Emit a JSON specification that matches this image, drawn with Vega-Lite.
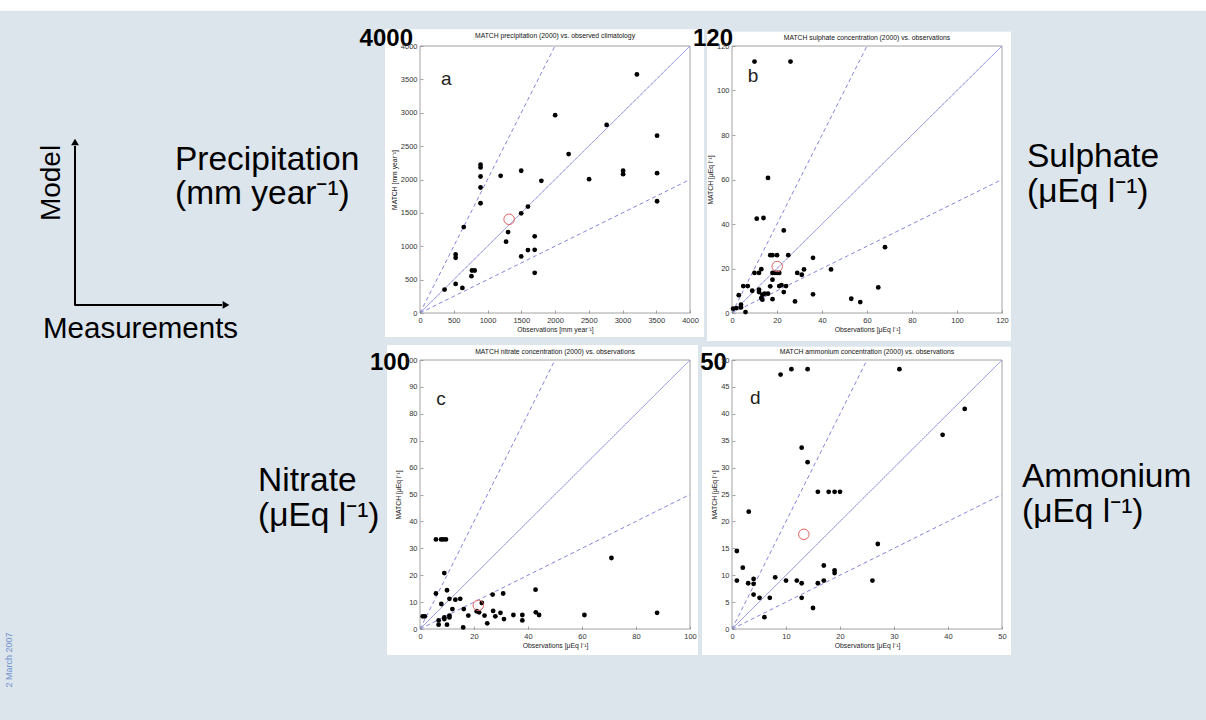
{
  "$schema": "https://vega.github.io/schema/vega-lite/v6.json",
  "padding": 0,
  "background": "#dce4ec",
  "bounds": "flush",
  "columns": 2,
  "spacing": {"row": 47, "column": 42},
  "config": {
    "font": "Liberation Sans",
    "view": {"stroke": null},
    "axis": {"grid": false, "domain": false, "format": "d", "tickColor": "#8c8c8c", "tickSize": -3, "tickWidth": 0.8, "labelFontSize": 7.5, "labelColor": "#333333", "labelPadding": 6, "labelFont": "Liberation Sans", "titleFont": "Liberation Sans", "titleFontSize": 6.8, "titleFontWeight": "normal", "titleColor": "#222222", "titlePadding": 3, "labelFlush": false, "labelOverlap": false}
  },
  "datasets": {
    "a_bg": [{"x": -6222, "x2": 11644, "y": -6097, "y2": 4689}],
    "a_strip": [{"x": -6222, "x2": 11644, "y": 4529, "y2": 4689}],
    "a_box": [{"x": -519, "x2": 4207, "y": -360, "y2": 4250}],
    "a_frame": [{"x": 0, "x2": 4000, "y": 0, "y2": 4000}],
    "a_title": [{"x": 2000, "y": 4150, "t": "MATCH precipitation (2000) vs. observed climatology"}],
    "a_ann": [{"x": -3630, "y": 2142, "t": "Precipitation"}, {"x": -3630, "y": 1633, "t": "(mm year⁻¹)"}],
    "a_arrow": [{"x": -5111, "y": 110, "x2": -5111, "y2": 2502}, {"x": -5111, "y": 120, "x2": -2933, "y2": 120}],
    "a_head": [{"x": -5111, "y": 2562, "dir": "up"}, {"x": -2874, "y": 120, "dir": "right"}],
    "a_model": [{"x": -5452, "y": 1948, "t": "Model"}],
    "a_meas": [{"x": -5585, "y": -375, "t": "Measurements"}],
    "a_ref": [{"s": "one", "x": 0, "y": 0}, {"s": "one", "x": 4000, "y": 4000}, {"s": "up", "x": 0, "y": 0}, {"s": "up", "x": 2000, "y": 4000}, {"s": "lo", "x": 0, "y": 0}, {"s": "lo", "x": 4000, "y": 2000}],
    "a_pts": [
      {"x": 364, "y": 351}, {"x": 528, "y": 436}, {"x": 528, "y": 877}, {"x": 528, "y": 827},
      {"x": 628, "y": 376}, {"x": 648, "y": 1288}, {"x": 762, "y": 551}, {"x": 770, "y": 637},
      {"x": 810, "y": 637}, {"x": 897, "y": 1644}, {"x": 897, "y": 1880}, {"x": 897, "y": 2045},
      {"x": 897, "y": 2181}, {"x": 897, "y": 2221}, {"x": 1195, "y": 2055}, {"x": 1275, "y": 1068},
      {"x": 1305, "y": 1213}, {"x": 1499, "y": 1494}, {"x": 1499, "y": 2131}, {"x": 1499, "y": 847},
      {"x": 1599, "y": 1594}, {"x": 1599, "y": 942}, {"x": 1699, "y": 1148}, {"x": 1699, "y": 947},
      {"x": 1699, "y": 602}, {"x": 1798, "y": 1980}, {"x": 2002, "y": 2963}, {"x": 2202, "y": 2381},
      {"x": 2505, "y": 2005}, {"x": 2765, "y": 2817}, {"x": 3009, "y": 2131}, {"x": 3009, "y": 2080},
      {"x": 3213, "y": 3574}, {"x": 3512, "y": 2657}, {"x": 3512, "y": 2095}, {"x": 3512, "y": 1674}
    ],
    "a_mean": [{"x": 1320, "y": 1404}],
    "a_letter": [{"x": 389, "y": 3509, "t": "a"}],
    "a_big": [{"x": -104, "y": 4105, "t": "4000"}],

    "b_box": [{"x": -11.1, "x2": 124, "y": -12.6, "y2": 126.4}],
    "b_frame": [{"x": 0, "x2": 120, "y": 0, "y2": 120}],
    "b_title": [{"x": 60, "y": 123.8, "t": "MATCH sulphate concentration (2000) vs. observations"}],
    "b_ann": [{"x": 131.1, "y": 65.6, "t": "Sulphate"}, {"x": 131.1, "y": 49.9, "t": "(μEq l⁻¹)"}],
    "b_ref": [{"s": "one", "x": 0, "y": 0}, {"s": "one", "x": 120, "y": 120}, {"s": "up", "x": 0, "y": 0}, {"s": "up", "x": 60, "y": 120}, {"s": "lo", "x": 0, "y": 0}, {"s": "lo", "x": 120, "y": 60}],
    "b_pts": [
      {"x": 10, "y": 113}, {"x": 26, "y": 113}, {"x": 16, "y": 60.7}, {"x": 11, "y": 42.4},
      {"x": 14, "y": 42.7}, {"x": 23, "y": 37.1}, {"x": 17, "y": 26}, {"x": 18, "y": 26},
      {"x": 20, "y": 26}, {"x": 25, "y": 26}, {"x": 10, "y": 18}, {"x": 12, "y": 18},
      {"x": 13, "y": 19.7}, {"x": 18, "y": 18}, {"x": 19, "y": 18}, {"x": 20, "y": 18},
      {"x": 21, "y": 18}, {"x": 29, "y": 18}, {"x": 31, "y": 17.2}, {"x": 32, "y": 19.6},
      {"x": 36, "y": 24.8}, {"x": 44, "y": 19.6}, {"x": 68, "y": 29.6}, {"x": 5, "y": 12.1},
      {"x": 7, "y": 12.1}, {"x": 17, "y": 12}, {"x": 21, "y": 12.1}, {"x": 22, "y": 12.5},
      {"x": 24, "y": 12.1}, {"x": 3, "y": 8}, {"x": 9, "y": 10}, {"x": 12, "y": 10.5},
      {"x": 12, "y": 9.4}, {"x": 13.5, "y": 8.2}, {"x": 14.5, "y": 8.7}, {"x": 16, "y": 8.7},
      {"x": 18, "y": 15}, {"x": 23, "y": 9.4}, {"x": 13, "y": 6.7}, {"x": 13.5, "y": 6},
      {"x": 18, "y": 6.2}, {"x": 2, "y": 2.2}, {"x": 0.5, "y": 1.9}, {"x": 4, "y": 2.5},
      {"x": 4, "y": 3.7}, {"x": 6, "y": 0.4}, {"x": 28, "y": 5.2}, {"x": 36, "y": 8.4},
      {"x": 53, "y": 6.4}, {"x": 57, "y": 4.9}, {"x": 65, "y": 11.5}
    ],
    "b_mean": [{"x": 20.1, "y": 20.9}],
    "b_letter": [{"x": 9.3, "y": 106.5, "t": "b"}],
    "b_big": [{"x": 0.44, "y": 123.1, "t": "120"}],

    "c_box": [{"x": -12.2, "x2": 102.96, "y": -9.67, "y2": 105.6}],
    "c_frame": [{"x": 0, "x2": 100, "y": 0, "y2": 100}],
    "c_title": [{"x": 50, "y": 102.8, "t": "MATCH nitrate concentration (2000) vs. observations"}],
    "c_ann": [{"x": -60, "y": 51.3, "t": "Nitrate"}, {"x": -60, "y": 38.3, "t": "(μEq l⁻¹)"}],
    "c_date": [{"x": -152.2, "y": -11.5, "t": "2 March 2007"}],
    "c_ref": [{"s": "one", "x": 0, "y": 0}, {"s": "one", "x": 100, "y": 100}, {"s": "up", "x": 0, "y": 0}, {"s": "up", "x": 50, "y": 100}, {"s": "lo", "x": 0, "y": 0}, {"s": "lo", "x": 100, "y": 50}],
    "c_pts": [
      {"x": 5.9, "y": 33.3}, {"x": 7.8, "y": 33.3}, {"x": 8.6, "y": 33.3}, {"x": 9.6, "y": 33.3},
      {"x": 9, "y": 20.8}, {"x": 5.9, "y": 13.2}, {"x": 10, "y": 14.4}, {"x": 1, "y": 4.7},
      {"x": 1.8, "y": 4.7}, {"x": 10.9, "y": 11.2}, {"x": 13.1, "y": 10.9}, {"x": 14.9, "y": 11.2},
      {"x": 12, "y": 7.4}, {"x": 16.2, "y": 7.4}, {"x": 7.9, "y": 9.3}, {"x": 6.9, "y": 3.2},
      {"x": 6.9, "y": 1.6}, {"x": 9, "y": 3.7}, {"x": 9, "y": 4.3}, {"x": 10, "y": 1.6},
      {"x": 10.9, "y": 4.3}, {"x": 10.9, "y": 5}, {"x": 16, "y": 0.6}, {"x": 17.9, "y": 5},
      {"x": 21, "y": 6.6}, {"x": 21.9, "y": 6.2}, {"x": 22.9, "y": 9.7}, {"x": 23.9, "y": 5},
      {"x": 24.9, "y": 2.1}, {"x": 26.9, "y": 12.8}, {"x": 27.1, "y": 6.7}, {"x": 27.9, "y": 4.7},
      {"x": 29.8, "y": 6}, {"x": 30.8, "y": 13.2}, {"x": 31.1, "y": 3.7}, {"x": 34.6, "y": 5.2},
      {"x": 37.9, "y": 5.2}, {"x": 37.9, "y": 3.2}, {"x": 42.8, "y": 14.6}, {"x": 42.9, "y": 6.2},
      {"x": 44.1, "y": 5.2}, {"x": 60.9, "y": 5.2}, {"x": 70.9, "y": 26.4}, {"x": 87.8, "y": 6}
    ],
    "c_mean": [{"x": 21.6, "y": 8.8}],
    "c_letter": [{"x": 7.8, "y": 85.4, "t": "c"}],
    "c_big": [{"x": -3.7, "y": 98.9, "t": "100"}],

    "d_box": [{"x": -5.56, "x2": 51.67, "y": -4.83, "y2": 52.47}],
    "d_frame": [{"x": 0, "x2": 50, "y": 0, "y2": 50}],
    "d_title": [{"x": 25, "y": 51.4, "t": "MATCH ammonium concentration (2000) vs. observations"}],
    "d_ann": [{"x": 53.7, "y": 26.4, "t": "Ammonium"}, {"x": 53.7, "y": 19.9, "t": "(μEq l⁻¹)"}],
    "d_ref": [{"s": "one", "x": 0, "y": 0}, {"s": "one", "x": 50, "y": 50}, {"s": "up", "x": 0, "y": 0}, {"s": "up", "x": 25, "y": 50}, {"s": "lo", "x": 0, "y": 0}, {"s": "lo", "x": 50, "y": 25}],
    "d_pts": [
      {"x": 9, "y": 47.3}, {"x": 11, "y": 48.3}, {"x": 14, "y": 48.3}, {"x": 31, "y": 48.3},
      {"x": 0.9, "y": 14.5}, {"x": 0.9, "y": 9}, {"x": 2, "y": 11.4}, {"x": 3, "y": 8.5},
      {"x": 3.1, "y": 21.8}, {"x": 4, "y": 9.3}, {"x": 4, "y": 8.4}, {"x": 4, "y": 6.4},
      {"x": 5.1, "y": 5.8}, {"x": 6, "y": 2.2}, {"x": 7, "y": 5.8}, {"x": 8, "y": 9.6},
      {"x": 10, "y": 9}, {"x": 12, "y": 9}, {"x": 12.9, "y": 8.5}, {"x": 12.9, "y": 5.8},
      {"x": 12.9, "y": 33.7}, {"x": 14, "y": 31}, {"x": 15, "y": 3.9}, {"x": 15.9, "y": 25.5},
      {"x": 15.9, "y": 8.5}, {"x": 17, "y": 11.8}, {"x": 17, "y": 9}, {"x": 17.9, "y": 25.5},
      {"x": 19, "y": 25.5}, {"x": 20, "y": 25.5}, {"x": 19, "y": 10.9}, {"x": 19, "y": 10.4},
      {"x": 26, "y": 9}, {"x": 27, "y": 15.8}, {"x": 39, "y": 36.1}, {"x": 43.1, "y": 40.9}
    ],
    "d_mean": [{"x": 13.3, "y": 17.6}],
    "d_letter": [{"x": 4.3, "y": 42.9, "t": "d"}],
    "d_big": [{"x": -0.93, "y": 49.4, "t": "50"}]
  },
  "concat": [
    {
      "width": 270, "height": 267,
      "encoding": {
        "x": {"field": "x", "type": "quantitative", "scale": {"domain": [0, 4000], "nice": false}, "axis": {"zindex": 2, "title": "Observations  [mm year⁻¹]", "values": [0, 500, 1000, 1500, 2000, 2500, 3000, 3500, 4000]}},
        "y": {"field": "y", "type": "quantitative", "scale": {"domain": [0, 4000], "nice": false}, "axis": {"zindex": 2, "title": "MATCH  [mm year⁻¹]", "values": [0, 500, 1000, 1500, 2000, 2500, 3000, 3500, 4000]}}
      },
      "layer": [
        {"data": {"name": "a_bg"}, "mark": {"type": "rect", "color": "#dce4ec"}, "encoding": {"x2": {"field": "x2"}, "y2": {"field": "y2"}}},
        {"data": {"name": "a_strip"}, "mark": {"type": "rect", "color": "#ffffff"}, "encoding": {"x2": {"field": "x2"}, "y2": {"field": "y2"}}},
        {"data": {"name": "a_box"}, "mark": {"type": "rect", "color": "#ffffff"}, "encoding": {"x2": {"field": "x2"}, "y2": {"field": "y2"}}},
        {"data": {"name": "a_frame"}, "mark": {"type": "rect", "filled": false, "stroke": "#8c8c8c", "strokeWidth": 0.8}, "encoding": {"x2": {"field": "x2"}, "y2": {"field": "y2"}}},
        {"data": {"name": "a_title"}, "mark": {"type": "text", "fontSize": 6.8, "align": "center", "baseline": "middle", "color": "#111111"}, "encoding": {"text": {"field": "t"}}},
        {"data": {"name": "a_ann"}, "mark": {"type": "text", "fontSize": 33.5, "align": "left", "baseline": "alphabetic", "color": "#000000"}, "encoding": {"text": {"field": "t"}}},
        {"data": {"name": "a_arrow"}, "mark": {"type": "rule", "color": "#000000", "strokeWidth": 2}, "encoding": {"x2": {"field": "x2"}, "y2": {"field": "y2"}}},
        {"data": {"name": "a_head"}, "mark": {"type": "point", "filled": true, "color": "#000000", "size": 60, "opacity": 1},
         "encoding": {"shape": {"field": "dir", "type": "nominal", "scale": {"domain": ["up", "right"], "range": ["triangle-up", "triangle-right"]}, "legend": null}}},
        {"data": {"name": "a_model"}, "mark": {"type": "text", "fontSize": 28, "angle": 270, "align": "center", "baseline": "middle", "color": "#000000"}, "encoding": {"text": {"field": "t"}}},
        {"data": {"name": "a_meas"}, "mark": {"type": "text", "fontSize": 29.5, "align": "left", "baseline": "alphabetic", "color": "#000000"}, "encoding": {"text": {"field": "t"}}},
        {"data": {"name": "a_ref"}, "mark": {"type": "line", "color": "#8585dd", "strokeWidth": 1},
         "encoding": {"detail": {"field": "s"}, "strokeDash": {"field": "s", "type": "nominal", "scale": {"domain": ["one", "up", "lo"], "range": [[1, 0], [4, 3], [4, 3]]}, "legend": null}}},
        {"data": {"name": "a_pts"}, "mark": {"type": "circle", "color": "#000000", "size": 23, "opacity": 1}},
        {"data": {"name": "a_mean"}, "mark": {"type": "point", "filled": false, "color": "#e06060", "size": 110, "strokeWidth": 1, "opacity": 1}},
        {"data": {"name": "a_letter"}, "mark": {"type": "text", "fontSize": 19, "align": "center", "baseline": "middle", "color": "#222222"}, "encoding": {"text": {"field": "t"}}},
        {"data": {"name": "a_big"}, "mark": {"type": "text", "fontSize": 24, "fontWeight": "bold", "align": "right", "baseline": "middle", "color": "#000000"}, "encoding": {"text": {"field": "t"}}}
      ]
    },
    {
      "width": 270, "height": 267,
      "encoding": {
        "x": {"field": "x", "type": "quantitative", "scale": {"domain": [0, 120], "nice": false}, "axis": {"zindex": 2, "title": "Observations  [μEq l⁻¹]", "values": [0, 20, 40, 60, 80, 100, 120]}},
        "y": {"field": "y", "type": "quantitative", "scale": {"domain": [0, 120], "nice": false}, "axis": {"zindex": 2, "title": "MATCH  [μEq l⁻¹]", "values": [0, 20, 40, 60, 80, 100, 120]}}
      },
      "layer": [
        {"data": {"name": "b_box"}, "mark": {"type": "rect", "color": "#ffffff"}, "encoding": {"x2": {"field": "x2"}, "y2": {"field": "y2"}}},
        {"data": {"name": "b_frame"}, "mark": {"type": "rect", "filled": false, "stroke": "#8c8c8c", "strokeWidth": 0.8}, "encoding": {"x2": {"field": "x2"}, "y2": {"field": "y2"}}},
        {"data": {"name": "b_title"}, "mark": {"type": "text", "fontSize": 6.8, "align": "center", "baseline": "middle", "color": "#111111"}, "encoding": {"text": {"field": "t"}}},
        {"data": {"name": "b_ann"}, "mark": {"type": "text", "fontSize": 33.5, "align": "left", "baseline": "alphabetic", "color": "#000000"}, "encoding": {"text": {"field": "t"}}},
        {"data": {"name": "b_ref"}, "mark": {"type": "line", "color": "#8585dd", "strokeWidth": 1},
         "encoding": {"detail": {"field": "s"}, "strokeDash": {"field": "s", "type": "nominal", "scale": {"domain": ["one", "up", "lo"], "range": [[1, 0], [4, 3], [4, 3]]}, "legend": null}}},
        {"data": {"name": "b_pts"}, "mark": {"type": "circle", "color": "#000000", "size": 23, "opacity": 1}},
        {"data": {"name": "b_mean"}, "mark": {"type": "point", "filled": false, "color": "#e06060", "size": 110, "strokeWidth": 1, "opacity": 1}},
        {"data": {"name": "b_letter"}, "mark": {"type": "text", "fontSize": 19, "align": "center", "baseline": "middle", "color": "#222222"}, "encoding": {"text": {"field": "t"}}},
        {"data": {"name": "b_big"}, "mark": {"type": "text", "fontSize": 24, "fontWeight": "bold", "align": "right", "baseline": "middle", "color": "#000000"}, "encoding": {"text": {"field": "t"}}}
      ]
    },
    {
      "width": 270, "height": 269,
      "encoding": {
        "x": {"field": "x", "type": "quantitative", "scale": {"domain": [0, 100], "nice": false}, "axis": {"zindex": 2, "title": "Observations  [μEq l⁻¹]", "values": [0, 20, 40, 60, 80, 100]}},
        "y": {"field": "y", "type": "quantitative", "scale": {"domain": [0, 100], "nice": false}, "axis": {"zindex": 2, "title": "MATCH  [μEq l⁻¹]", "values": [0, 10, 20, 30, 40, 50, 60, 70, 80, 90, 100]}}
      },
      "layer": [
        {"data": {"name": "c_box"}, "mark": {"type": "rect", "color": "#ffffff"}, "encoding": {"x2": {"field": "x2"}, "y2": {"field": "y2"}}},
        {"data": {"name": "c_frame"}, "mark": {"type": "rect", "filled": false, "stroke": "#8c8c8c", "strokeWidth": 0.8}, "encoding": {"x2": {"field": "x2"}, "y2": {"field": "y2"}}},
        {"data": {"name": "c_title"}, "mark": {"type": "text", "fontSize": 6.8, "align": "center", "baseline": "middle", "color": "#111111"}, "encoding": {"text": {"field": "t"}}},
        {"data": {"name": "c_ann"}, "mark": {"type": "text", "fontSize": 33.5, "align": "left", "baseline": "alphabetic", "color": "#000000"}, "encoding": {"text": {"field": "t"}}},
        {"data": {"name": "c_date"}, "mark": {"type": "text", "fontSize": 9, "angle": 270, "align": "center", "baseline": "middle", "color": "#6f93cc"}, "encoding": {"text": {"field": "t"}}},
        {"data": {"name": "c_ref"}, "mark": {"type": "line", "color": "#8585dd", "strokeWidth": 1},
         "encoding": {"detail": {"field": "s"}, "strokeDash": {"field": "s", "type": "nominal", "scale": {"domain": ["one", "up", "lo"], "range": [[1, 0], [4, 3], [4, 3]]}, "legend": null}}},
        {"data": {"name": "c_pts"}, "mark": {"type": "circle", "color": "#000000", "size": 23, "opacity": 1}},
        {"data": {"name": "c_mean"}, "mark": {"type": "point", "filled": false, "color": "#e06060", "size": 110, "strokeWidth": 1, "opacity": 1}},
        {"data": {"name": "c_letter"}, "mark": {"type": "text", "fontSize": 19, "align": "center", "baseline": "middle", "color": "#222222"}, "encoding": {"text": {"field": "t"}}},
        {"data": {"name": "c_big"}, "mark": {"type": "text", "fontSize": 24, "fontWeight": "bold", "align": "right", "baseline": "middle", "color": "#000000"}, "encoding": {"text": {"field": "t"}}}
      ]
    },
    {
      "width": 270, "height": 269,
      "encoding": {
        "x": {"field": "x", "type": "quantitative", "scale": {"domain": [0, 50], "nice": false}, "axis": {"zindex": 2, "title": "Observations  [μEq l⁻¹]", "values": [0, 10, 20, 30, 40, 50]}},
        "y": {"field": "y", "type": "quantitative", "scale": {"domain": [0, 50], "nice": false}, "axis": {"zindex": 2, "title": "MATCH  [μEq l⁻¹]", "values": [0, 5, 10, 15, 20, 25, 30, 35, 40, 45, 50]}}
      },
      "layer": [
        {"data": {"name": "d_box"}, "mark": {"type": "rect", "color": "#ffffff"}, "encoding": {"x2": {"field": "x2"}, "y2": {"field": "y2"}}},
        {"data": {"name": "d_frame"}, "mark": {"type": "rect", "filled": false, "stroke": "#8c8c8c", "strokeWidth": 0.8}, "encoding": {"x2": {"field": "x2"}, "y2": {"field": "y2"}}},
        {"data": {"name": "d_title"}, "mark": {"type": "text", "fontSize": 6.8, "align": "center", "baseline": "middle", "color": "#111111"}, "encoding": {"text": {"field": "t"}}},
        {"data": {"name": "d_ann"}, "mark": {"type": "text", "fontSize": 33.5, "align": "left", "baseline": "alphabetic", "color": "#000000"}, "encoding": {"text": {"field": "t"}}},
        {"data": {"name": "d_ref"}, "mark": {"type": "line", "color": "#8585dd", "strokeWidth": 1},
         "encoding": {"detail": {"field": "s"}, "strokeDash": {"field": "s", "type": "nominal", "scale": {"domain": ["one", "up", "lo"], "range": [[1, 0], [4, 3], [4, 3]]}, "legend": null}}},
        {"data": {"name": "d_pts"}, "mark": {"type": "circle", "color": "#000000", "size": 23, "opacity": 1}},
        {"data": {"name": "d_mean"}, "mark": {"type": "point", "filled": false, "color": "#e06060", "size": 110, "strokeWidth": 1, "opacity": 1}},
        {"data": {"name": "d_letter"}, "mark": {"type": "text", "fontSize": 19, "align": "center", "baseline": "middle", "color": "#222222"}, "encoding": {"text": {"field": "t"}}},
        {"data": {"name": "d_big"}, "mark": {"type": "text", "fontSize": 24, "fontWeight": "bold", "align": "right", "baseline": "middle", "color": "#000000"}, "encoding": {"text": {"field": "t"}}}
      ]
    }
  ]
}
